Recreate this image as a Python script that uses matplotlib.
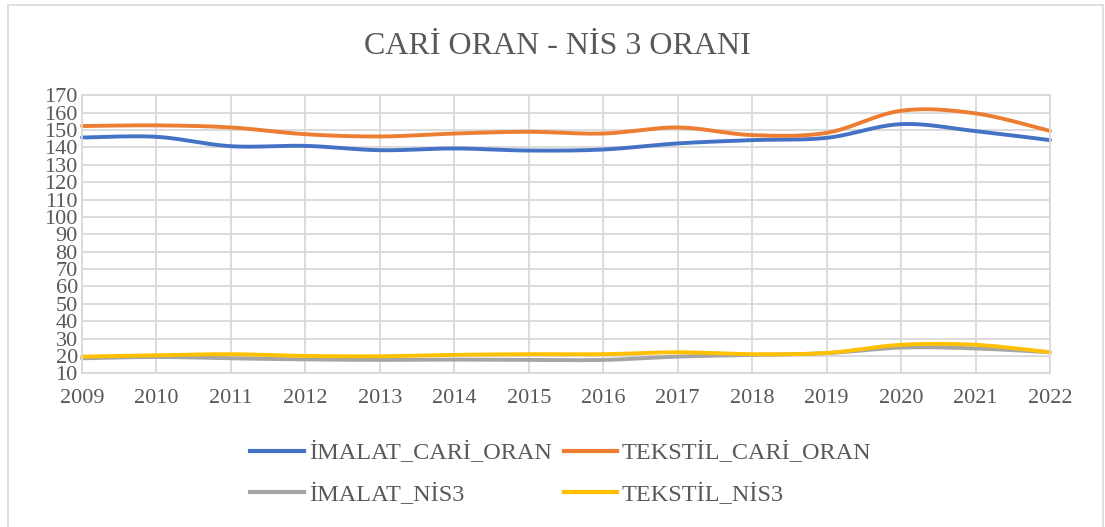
import numpy as np
import matplotlib
matplotlib.use("Agg")
import matplotlib.pyplot as plt
from matplotlib.lines import Line2D
from matplotlib.patches import Rectangle

years = [2009, 2010, 2011, 2012, 2013, 2014, 2015, 2016, 2017, 2018, 2019, 2020, 2021, 2022]
imalat_cari = [145.7, 146.1, 140.7, 140.9, 138.4, 139.4, 138.2, 138.8, 142.3, 144.2, 145.5, 153.4, 149.4, 144.2]
tekstil_cari = [152.3, 152.7, 151.5, 147.6, 146.3, 148.0, 149.0, 148.0, 151.5, 147.1, 148.4, 161.1, 159.6, 149.5]
imalat_nis3 = [18.6, 19.4, 18.6, 18.0, 17.7, 17.9, 17.7, 17.7, 19.6, 20.6, 21.6, 24.8, 24.3, 22.1]
tekstil_nis3 = [19.6, 20.4, 21.0, 20.0, 19.8, 20.6, 21.0, 21.0, 22.1, 21.0, 21.7, 26.4, 26.4, 22.1]

series_names = ["İMALAT_CARİ_ORAN", "TEKSTİL_CARİ_ORAN", "İMALAT_NİS3", "TEKSTİL_NİS3"]
series_colors = ["#4472C4", "#ED7D31", "#A5A5A5", "#FFC000"]
title = "CARİ ORAN - NİS 3 ORANI"
yticks = list(range(10, 171, 10))

plt.rcParams['font.family'] = ['Liberation Serif', 'DejaVu Serif']
text_color = "#595959"


def smooth(xs, ys, n=30):
    # Excel-like smoothed line: cubic Bezier through the points
    xs = np.asarray(xs, float)
    ys = np.asarray(ys, float)
    pts = np.column_stack([xs, ys])
    out = []
    m = len(pts)
    for i in range(m - 1):
        p0 = pts[i - 1] if i > 0 else pts[i]
        p1 = pts[i]
        p2 = pts[i + 1]
        p3 = pts[i + 2] if i + 2 < m else pts[i + 1]
        c1 = p1 + (p2 - p0) / 6.0
        c2 = p2 - (p3 - p1) / 6.0
        t = np.linspace(0, 1, n, endpoint=(i == m - 2))[:, None]
        seg = ((1 - t) ** 3) * p1 + 3 * ((1 - t) ** 2) * t * c1 + 3 * (1 - t) * t ** 2 * c2 + t ** 3 * p2
        out.append(seg)
    out = np.vstack(out)
    return out[:, 0], out[:, 1]


W, H = 1105, 527
fig = plt.figure(figsize=(W / 100, H / 100), dpi=100)
fig.patch.set_facecolor("white")
fig.patches.append(Rectangle((8 / W, -0.01), (1103 - 8) / W, 1 - 5 / H + 0.01,
                             transform=fig.transFigure, fill=False, edgecolor="#D9D9D9", linewidth=1.2))

left, right, top, bottom = 82, 1050, 95.3, 373.3
ax = fig.add_axes([left / W, 1 - bottom / H, (right - left) / W, (bottom - top) / H])
ax.set_xlim(years[0], years[-1])
ax.set_ylim(10, 170)
ax.set_yticks(yticks)
ax.set_xticks(years)
ax.grid(True, color="#D9D9D9", linewidth=1.3)
ax.set_axisbelow(True)
for s in ax.spines.values():
    s.set_color("#D9D9D9")
    s.set_linewidth(1.3)
ax.tick_params(length=0, labelsize=16, colors=text_color, pad=3)
ax.tick_params(axis='x', pad=11)

data = [imalat_cari, tekstil_cari, imalat_nis3, tekstil_nis3]
draw_order = [2, 3, 0, 1]
for i in draw_order:
    sx, sy = smooth(years, data[i])
    ax.plot(sx, sy, color=series_colors[i], linewidth=2.8, solid_capstyle='round', clip_on=False)

fig.text(557 / W, 1 - 46 / H, title, ha='center', va='center', fontsize=23, color=text_color)

# legend (row-wise order: matplotlib fills columns first)
order = [0, 2, 1, 3]
handles = [Line2D([0], [0], color=series_colors[k], linewidth=3) for k in order]
labels = [series_names[k] for k in order]
leg = fig.legend(handles, labels, ncol=2, loc='center', bbox_to_anchor=(561 / W, 1 - 474 / H),
                 frameon=False, fontsize=17.5, handlelength=2.2, handletextpad=0.2, columnspacing=0.5,
                 labelspacing=0.78, borderpad=0, borderaxespad=0)
for t in leg.get_texts():
    t.set_color(text_color)

fig.savefig("out.png", dpi=100, facecolor="white")
